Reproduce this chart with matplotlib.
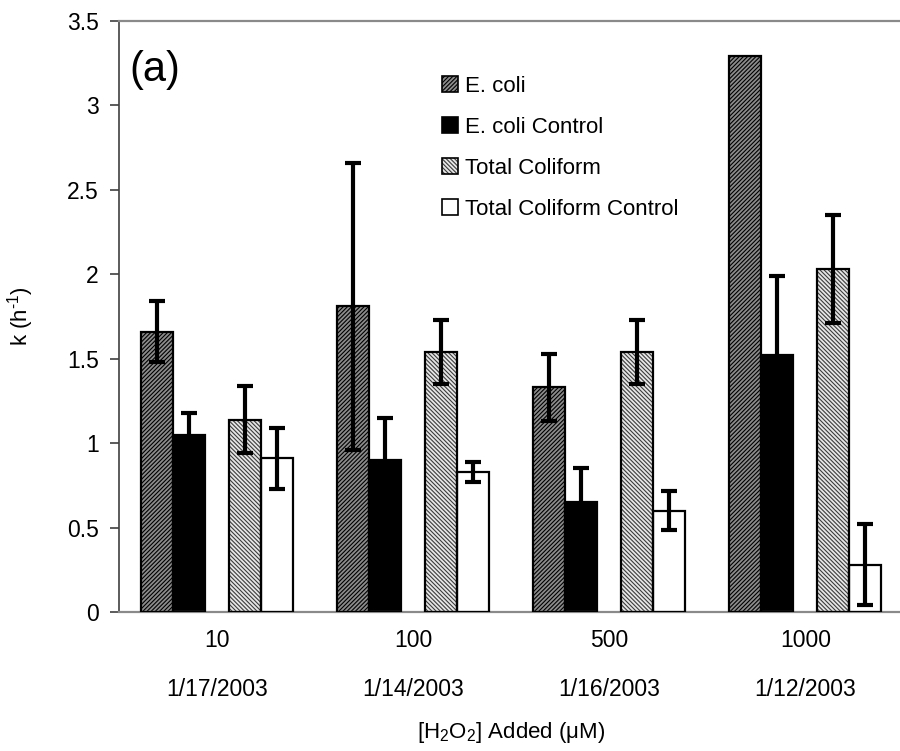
import numpy as np
import matplotlib
matplotlib.use('Agg')
import matplotlib.pyplot as plt
from matplotlib.patches import Patch
from matplotlib.ticker import FuncFormatter

plt.rcParams['font.family'] = ['Liberation Sans', 'DejaVu Sans']
plt.rcParams['mathtext.default'] = 'regular'
plt.rcParams['hatch.linewidth'] = 0.8

# data
concentrations = ['10', '100', '500', '1000']
dates = ['1/17/2003', '1/14/2003', '1/16/2003', '1/12/2003']
ecoli = [1.66, 1.81, 1.33, 3.29]
ecoli_err = [0.18, 0.85, 0.20, np.nan]
ecoli_ctrl = [1.05, 0.90, 0.65, 1.52]
ecoli_ctrl_err = [0.13, 0.25, 0.20, 0.47]
total_coli = [1.14, 1.54, 1.54, 2.03]
total_coli_err = [0.20, 0.19, 0.19, 0.32]
total_coli_ctrl = [0.91, 0.83, 0.60, 0.28]
total_coli_ctrl_err = [0.18, 0.06, 0.115, 0.24]

series = [
    # label, values, errors, offset, facecolor, hatch, hatch colour
    ('E. coli', ecoli, ecoli_err, -0.306, '#8c8c8c', '////////', 'black'),
    ('E. coli Control', ecoli_ctrl, ecoli_ctrl_err, -0.143, 'black', None, 'black'),
    ('Total Coliform', total_coli, total_coli_err, 0.143, '#e6e6e6', '\\\\\\\\\\\\\\\\', '#3c3c3c'),
    ('Total Coliform Control', total_coli_ctrl, total_coli_ctrl_err, 0.306, 'white', None, 'black'),
]

fig = plt.figure(figsize=(9, 7.51), dpi=100)
ax = fig.add_axes([0.1322, 0.1851, 0.8715, 0.7869])

x = np.arange(len(concentrations))
width = 0.163
handles = []
for label, vals, errs, off, fc, hatch, hc in series:
    pos = x + off
    ax.bar(pos, vals, width, color=fc, hatch=hatch, edgecolor=hc, linewidth=0, zorder=2)
    ax.bar(pos, vals, width, fill=False, edgecolor='black', linewidth=1.6, zorder=3)
    errs = np.array(errs, dtype=float)
    ok = ~np.isnan(errs)
    ax.errorbar(pos[ok], np.array(vals)[ok], yerr=errs[ok], fmt='none', ecolor='black',
                elinewidth=3.0, capsize=6, capthick=3.0, zorder=4)
    h1 = Patch(facecolor=fc, hatch=hatch, edgecolor=hc, linewidth=0)
    h2 = Patch(fill=False, edgecolor='black', linewidth=1.2)
    handles.append((h1, h2))

ax.set_xlim(-0.5, 3.5)
ax.set_ylim(0, 3.5)
ax.set_yticks(np.arange(0, 3.51, 0.5))
ax.yaxis.set_major_formatter(FuncFormatter(lambda v, p: f'{v:g}'))
ax.set_xticks(x)
ax.set_xticklabels([f'{c}\n{d}' for c, d in zip(concentrations, dates)], linespacing=2.45)
ax.tick_params(axis='x', length=0, pad=12, labelsize=16.5)
ax.tick_params(axis='y', direction='out', length=6.5, width=1.2, color='#404040', labelsize=16.5, pad=8)

ax.spines['right'].set_visible(False)
ax.spines['left'].set_color('#404040')
ax.spines['left'].set_linewidth(1.2)
for s in ['top', 'bottom']:
    ax.spines[s].set_color('#8a8a8a')
    ax.spines[s].set_linewidth(1.6)

ax.set_ylabel('k (h$^{\u2010\u200a1}$)'.replace('\u200a', ''), fontsize=16, labelpad=22)
ax.set_xlabel(r'[H$_2$O$_2$] Added ($\mu$M)', fontsize=16, labelpad=14)

ax.text(0.013, 0.917, '(a)', transform=ax.transAxes, fontsize=30, va='center', ha='left')

ax.legend(handles, [s[0] for s in series], loc='upper left', bbox_to_anchor=(0.401, 0.922),
          frameon=False, fontsize=16, handlelength=0.7, handleheight=0.75,
          handletextpad=0.3, labelspacing=0.9, borderaxespad=0)

fig.savefig('out.png', dpi=100)
